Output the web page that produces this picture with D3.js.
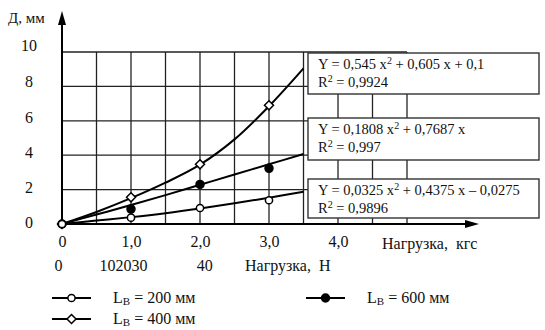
<!DOCTYPE html>
<html>
<head>
<meta charset="utf-8">
<script src="https://cdn.jsdelivr.net/npm/d3@7"></script>
<style>
    body { margin: 0; background: #fff; }
    svg text { font-family: "Liberation Serif", "Times New Roman", serif; fill: #111; }
    .grid line { stroke: #222; stroke-width: 1.3; }
    .curve { fill: none; stroke: #000; stroke-width: 2; }
    .eq-box { fill: #fff; stroke: #333; stroke-width: 1.4; }
</style>
</head>
<body>
<div id="chart"></div>
<script>
// measured loads, kgf
const loadKgf = [0, 1, 2, 3];
// deflection, mm, for each base length
const deflection200 = [0, 0.37, 0.93, 1.38];
const deflection400 = [0, 1.55, 3.47, 6.9];
const deflection600 = [0, 0.87, 2.3, 3.24];

// trend lines
const trendX = [0, 0.5, 1, 1.5, 2, 2.5, 3, 3.5];
const trend200 = [0, 0.2, 0.4, 0.63, 0.9, 1.2, 1.53, 1.88];
const trend400 = [0, 0.7, 1.5, 2.4, 3.45, 4.92, 6.85, 9.05];
const trend600 = [0, 0.55, 1.1, 1.68, 2.28, 2.88, 3.47, 4.07];

const yTicks = [0, 2, 4, 6, 8, 10];
const xTicks = [0, 1, 2, 3, 4];
const newtonLabels = ["0", "102030", "40"];
const newtonAt = [-0.05, 0.89, 2.07];   // where the typed labels sit, in kgf units

const equations = [
    {line1: ["Y = 0,545 x", "2", " + 0,605 x + 0,1"], r2: "0,9924"},
    {line1: ["Y = 0,1808 x", "2", " + 0,7687 x"], r2: "0,997"},
    {line1: ["Y = 0,0325 x", "2", " + 0,4375 x \u2013 0,0275"], r2: "0,9896"}
];

const series = [
    {name: "200", points: deflection200, trend: trend200, marker: "circle"},
    {name: "400", points: deflection400, trend: trend400, marker: "diamond"},
    {name: "600", points: deflection600, trend: trend600, marker: "dot"}
];

const width = 545, height = 330;

const svg = d3.select("#chart").append("svg")
    .attr("width", width)
    .attr("height", height);

const x = d3.scaleLinear().domain([0, 5]).range([62, 407]);
const y = d3.scaleLinear().domain([0, 10]).range([224, 52]);

// grid
const grid = svg.append("g").attr("class", "grid");
grid.selectAll(".vline")
    .data(d3.range(1, 11).map(d => d * 0.5))
    .join("line")
    .attr("x1", d => x(d)).attr("x2", d => x(d))
    .attr("y1", y(0)).attr("y2", y(10));
grid.selectAll(".hline")
    .data(yTicks.slice(1))
    .join("line")
    .attr("x1", x(0)).attr("x2", x(5))
    .attr("y1", d => y(d)).attr("y2", d => y(d));

// axes with arrows
svg.append("line")
    .attr("x1", x(0)).attr("x2", x(0))
    .attr("y1", y(0)).attr("y2", 20)
    .attr("stroke", "#000").attr("stroke-width", 2);
svg.append("path")
    .attr("d", `M${x(0)},11 L${x(0) - 4},25 L${x(0) + 4},25 Z`)
    .attr("fill", "#000");
svg.append("line")
    .attr("x1", x(0)).attr("x2", 468)
    .attr("y1", y(0)).attr("y2", y(0))
    .attr("stroke", "#000").attr("stroke-width", 2);
svg.append("path")
    .attr("d", `M479,${y(0)} L465,${y(0) - 4} L465,${y(0) + 4} Z`)
    .attr("fill", "#000");

// y tick labels (typed by hand in the original, so they drift up a little)
const yAxis = d3.axisLeft(y).tickValues(yTicks).tickSize(0).tickFormat(d3.format("d"));
svg.append("g")
    .attr("transform", `translate(${x(0)},0)`)
    .call(yAxis)
    .call(g => g.select(".domain").remove())
    .call(g => g.selectAll("text")
        .attr("x", -33)
        .attr("dy", d => 3.3 - 0.05 * d * d)
        .attr("text-anchor", "middle")
        .style("font-size", "16px"));

svg.append("text")
    .attr("x", 8).attr("y", 23)
    .style("font-size", "15px")
    .text("Д, мм");

// x tick labels, kgf
const xAxis = d3.axisBottom(x).tickValues(xTicks).tickSize(0)
    .tickFormat(d => d === 0 ? "0" : d.toFixed(1).replace(".", ","));
svg.append("g")
    .attr("transform", `translate(0,${y(0)})`)
    .call(xAxis)
    .call(g => g.select(".domain").remove())
    .call(g => g.selectAll("text")
        .attr("y", 12)
        .style("font-size", "16px"));

svg.append("text")
    .attr("x", 382).attr("y", 249)
    .style("font-size", "16px")
    .attr("xml:space", "preserve")
    .text("Нагрузка,  кгс");

// second row, newtons
svg.selectAll(".newton")
    .data(newtonLabels)
    .join("text")
    .attr("class", "newton")
    .attr("x", (d, i) => x(newtonAt[i]))
    .attr("y", 271)
    .attr("text-anchor", "middle")
    .style("font-size", "16px")
    .text(d => d);

svg.append("text")
    .attr("x", 245).attr("y", 271)
    .style("font-size", "16px")
    .attr("xml:space", "preserve")
    .text("Нагрузка,  Н");

// trend curves
const line = d3.line()
    .x((d, i) => x(trendX[i]))
    .y(d => y(d))
    .curve(d3.curveCatmullRom);

svg.selectAll(".curve")
    .data(series)
    .join("path")
    .attr("class", "curve")
    .attr("d", d => line(d.trend));

// markers
function drawMarker(g, type, cx, cy) {
    if (type === "diamond") {
        g.append("path")
            .attr("d", `M${cx},${cy - 4.5} L${cx + 4.5},${cy} L${cx},${cy + 4.5} L${cx - 4.5},${cy} Z`)
            .attr("fill", "#fff").attr("stroke", "#000").attr("stroke-width", 1.5);
    } else {
        g.append("circle")
            .attr("cx", cx).attr("cy", cy)
            .attr("r", type === "dot" ? 4 : 3.6)
            .attr("fill", type === "dot" ? "#000" : "#fff")
            .attr("stroke", "#000").attr("stroke-width", 1.5);
    }
}

const markers = svg.append("g");
[series[2], series[1], series[0]].forEach(s => {
    s.points.forEach((v, i) => drawMarker(markers, s.marker, x(loadKgf[i]), y(v)));
});

// equation boxes
const boxTop = [53, 118, 179];
const boxH = [41, 42, 39];
equations.forEach((eq, i) => {
    const g = svg.append("g").attr("transform", `translate(308,${boxTop[i]})`);
    g.append("rect").attr("class", "eq-box")
        .attr("width", 231).attr("height", boxH[i]);
    const t1 = g.append("text").attr("x", 10).attr("y", 16).style("font-size", "14.5px")
        .attr("xml:space", "preserve");
    t1.append("tspan").text(eq.line1[0]);
    t1.append("tspan").attr("dy", -5).style("font-size", "10px").text(eq.line1[1]);
    t1.append("tspan").attr("dy", 5).text(eq.line1[2]);
    const t2 = g.append("text").attr("x", 10).attr("y", 34).style("font-size", "14.5px");
    t2.append("tspan").text("R");
    t2.append("tspan").attr("dy", -5).style("font-size", "10px").text("2");
    t2.append("tspan").attr("dy", 5).text(" = " + eq.r2);
});

// legend
const legendItems = [
    {marker: "circle", label: "200", lx: 52, ty: 298},
    {marker: "dot", label: "600", lx: 306, ty: 298},
    {marker: "diamond", label: "400", lx: 52, ty: 319}
];
legendItems.forEach(d => {
    const g = svg.append("g");
    g.append("line")
        .attr("x1", d.lx).attr("x2", d.lx + 39)
        .attr("y1", d.ty).attr("y2", d.ty)
        .attr("stroke", "#000").attr("stroke-width", 2);
    drawMarker(g, d.marker, d.lx + 19.5, d.ty);
    const t = g.append("text")
        .attr("x", d.lx + 61).attr("y", d.ty + 5)
        .style("font-size", "16px");
    t.append("tspan").text("L");
    t.append("tspan").attr("dy", 2).style("font-size", "11px").text("В");
    t.append("tspan").attr("dy", -2).text(` = ${d.label} мм`);
});
</script>
</body>
</html>
